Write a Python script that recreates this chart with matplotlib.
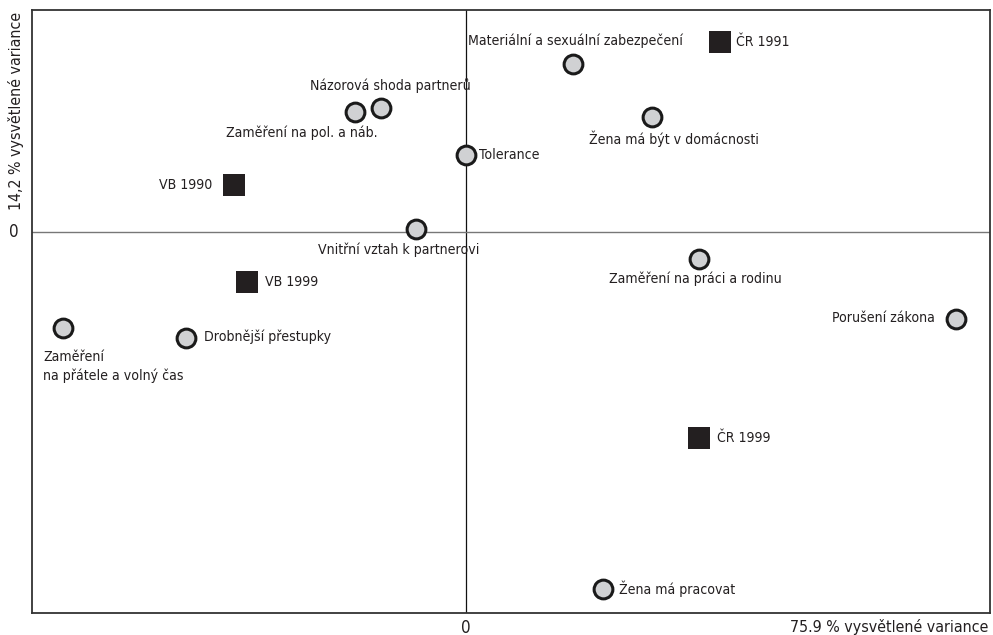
import matplotlib
matplotlib.use("Agg")
import matplotlib.pyplot as plt
from matplotlib import font_manager
from matplotlib.font_manager import FontProperties

# pick a condensed sans if available
def pick_font():
    fl = font_manager.fontManager.ttflist
    for f in fl:
        if f.name == 'Liberation Sans Narrow' and f.weight in (400, 'normal') and f.style == 'normal':
            return f.fname, 1.0
    for f in fl:
        base = f.fname.split('/')[-1]
        if base == 'DejaVuSansCondensed.ttf':
            return f.fname, 0.97
    for f in fl:
        base = f.fname.split('/')[-1].lower()
        if 'condensed' in base and ('roboto' in base or 'opensans' in base) and 'bold' not in base \
                and 'italic' not in base and 'light' not in base:
            return f.fname, 1.0
    return None, 0.86

FPATH, SCALE = pick_font()

def fp(size):
    if FPATH:
        return FontProperties(fname=FPATH, size=size * SCALE)
    return FontProperties(family='DejaVu Sans', size=size * SCALE)

# ---- data ----
var_labels = ["Materiální a sexuální zabezpečení", "Žena má být v domácnosti",
              "Názorová shoda partnerů", "Zaměření na pol. a náb.", "Tolerance",
              "Vnitřní vztah k partnerovi", "Zaměření na práci a rodinu",
              "Porušení zákona", "Zaměření\nna přátele a volný čas",
              "Drobnější přestupky", "Žena má pracovat"]
var_x = [1.07, 1.86, -0.85, -1.11, 0.00, -0.50, 2.33, 4.90, -4.03, -2.80, 1.37]
var_y = [1.68, 1.15, 1.24, 1.20, 0.77, 0.03, -0.27, -0.87, -0.96, -1.06, -3.57]

group_labels = ["ČR 1991", "VB 1990", "VB 1999", "ČR 1999"]
group_x = [2.54, -2.32, -2.19, 2.33]
group_y = [1.90, 0.47, -0.50, -2.06]

x_label = "75.9 % vysvětlené variance"
y_label = "14,2 % vysvětlené variance"

# ---- layout (label offsets in points, alignment) ----
var_offsets = [(2, 17, 'center', 'center'), (16, -16, 'center', 'center'),
               (7, 16, 'center', 'center'), (-38, -15, 'center', 'center'),
               (10, 0, 'left', 'center'), (-12, -15, 'center', 'center'),
               (-2, -14, 'center', 'center'), (-15, 1, 'right', 'center'),
               (-14, -16, 'left', 'top'), (13, 1, 'left', 'center'),
               (12, 0, 'left', 'center')]
group_offsets = [(12, 0, 'left', 'center'), (-15, 0, 'right', 'center'),
                 (13, 0, 'left', 'center'), (13, 0, 'left', 'center')]

fig = plt.figure(figsize=(9.93, 6.35), dpi=100)
ax = fig.add_axes([32/993, 1-613/635, (990-32)/993, (613-10)/635])
ax.set_xlim(-4.335, 5.245)
ax.set_ylim(-3.81, 2.22)
for s in ax.spines.values():
    s.set_color('#333333')
    s.set_linewidth(1.3)
ax.set_xticks([])
ax.set_yticks([])

ax.axvline(0, color='#111111', lw=0.9, zorder=1)
ax.axhline(0, color='#777777', lw=1.0, zorder=1)

ax.plot(var_x, var_y, 'o', ms=13.5, mfc='#d0d1d3', mec='#1a1a1a', mew=2.2,
        ls='none', zorder=3)
ax.plot(group_x, group_y, 's', ms=15.5, mfc='#231f20', mec='#231f20', mew=0,
        ls='none', zorder=3)

FS = 10.4
for lab, x, y, (dx, dy, ha, va) in zip(var_labels, var_x, var_y, var_offsets):
    ax.annotate(lab, (x, y), xytext=(dx, dy), textcoords='offset points',
                ha=ha, va=va, fontproperties=fp(FS), color='#231f20',
                multialignment='left', linespacing=1.4)
for lab, x, y, (dx, dy, ha, va) in zip(group_labels, group_x, group_y, group_offsets):
    ax.annotate(lab, (x, y), xytext=(dx, dy), textcoords='offset points',
                ha=ha, va=va, fontproperties=fp(FS), color='#231f20')

# zero markers on the axes
ax.annotate("0", (0, 0), xycoords=('data', 'axes fraction'), xytext=(0, -4),
            textcoords='offset points', ha='center', va='top',
            fontproperties=fp(12.5), color='#231f20')
ax.annotate("0", (0, 0), xycoords=('axes fraction', 'data'), xytext=(-13, 0),
            textcoords='offset points', ha='center', va='center',
            fontproperties=fp(12.5), color='#231f20')

fig.text(988/993, 1-627/635, x_label, ha='right', va='center',
         fontproperties=fp(11.8), color='#231f20')
fig.text(16/993, 1-12/635, y_label, ha='center', va='top', rotation=90,
         fontproperties=fp(11.8), color='#231f20')

fig.savefig("out.png", dpi=100)
